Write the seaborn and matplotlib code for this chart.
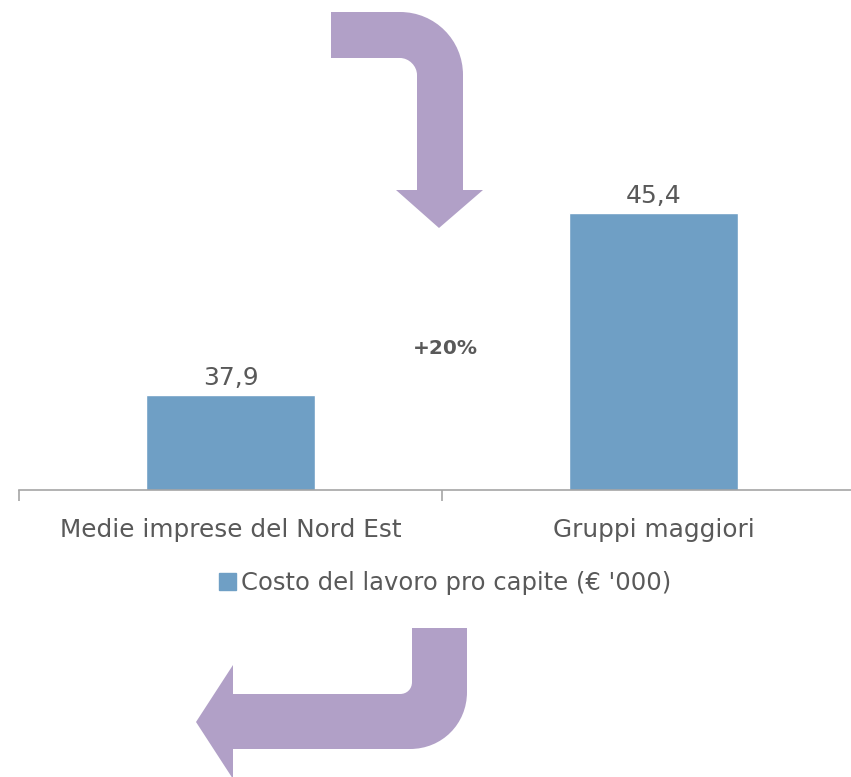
import pandas as pd
import seaborn as sns
import matplotlib.pyplot as plt
from matplotlib.path import Path
from matplotlib.patches import PathPatch, Patch
from matplotlib.transforms import Affine2D

# data
categories = ['Medie imprese del Nord Est', 'Gruppi maggiori']
values = [37.9, 45.4]
value_labels = ['37,9', '45,4']
series_name = "Costo del lavoro pro capite (€ '000)"
delta_label = '+20%'

BAR_COLOR = '#6F9FC5'
ARROW_COLOR = '#B1A0C7'
TEXT_COLOR = '#595959'
AXIS_COLOR = '#A6A6A6'

W, H = 851, 777

sns.set_style('white')
plt.rcParams['font.family'] = ['DejaVu Sans']

df = pd.DataFrame({'categoria': categories, 'valore': values})

fig = plt.figure(figsize=(W / 100, H / 100), dpi=100)
ax = fig.add_axes([19 / W, (H - 490) / H, 846 / W, 490 / H])
sns.barplot(data=df, x='categoria', y='valore', color=BAR_COLOR, width=0.4,
            saturation=1, ax=ax)
ax.set_xlim(-0.5, 1.5)
ax.set_ylim(34, 34 + 490 / 24.27)

for i, lab in enumerate(value_labels):
    ax.annotate(lab, (i, values[i]), xytext=(0, 4), textcoords='offset points',
                ha='center', va='bottom', fontsize=18, color=TEXT_COLOR)

ax.set_xlabel('')
ax.set_ylabel('')
ax.set_yticks([])
for side in ['top', 'right', 'left']:
    ax.spines[side].set_visible(False)
ax.spines['bottom'].set_color(AXIS_COLOR)
ax.spines['bottom'].set_linewidth(1.2)
ax.set_xticks([-0.5, 0.5, 1.5], minor=True)
ax.tick_params(axis='x', which='minor', length=8, width=1.2, color=AXIS_COLOR,
               direction='out', bottom=True)
ax.tick_params(axis='x', which='major', length=0, pad=20, labelsize=17.8,
               labelcolor=TEXT_COLOR)

# legend
ax.legend(handles=[Patch(color=BAR_COLOR, label=series_name)],
          loc='center', bbox_to_anchor=(445 / W, 1 - 583 / H),
          bbox_transform=fig.transFigure, frameon=False, fontsize=17.5,
          labelcolor=TEXT_COLOR, handlelength=0.7, handleheight=0.7,
          handletextpad=0.2)

fig.text(445 / W, 1 - 349 / H, delta_label, ha='center', va='center',
         fontsize=14.5, fontweight='bold', color=TEXT_COLOR)

# bent arrows, in pixel coordinates from top-left
px = Affine2D().scale(1 / W, -1 / H).translate(0, 1) + fig.transFigure
M, L, C, Z = Path.MOVETO, Path.LINETO, Path.CURVE4, Path.CLOSEPOLY

top_arrow = [
    (M, (331, 12)), (L, (400, 12)),
    (C, (435, 12)), (C, (463, 40)), (C, (463, 75)),
    (L, (463, 190)), (L, (483, 190)), (L, (439, 228)), (L, (396, 190)),
    (L, (417, 190)), (L, (417, 75)),
    (C, (417, 66)), (C, (409, 58)), (C, (400, 58)),
    (L, (331, 58)), (Z, (331, 12)),
]
bottom_arrow = [
    (M, (412, 628)), (L, (467, 628)), (L, (467, 692)),
    (C, (467, 724)), (C, (442, 749)), (C, (410, 749)),
    (L, (233, 749)), (L, (233, 779)), (L, (196, 722)), (L, (233, 665)),
    (L, (233, 694)), (L, (400, 694)),
    (C, (407, 694)), (C, (412, 689)), (C, (412, 682)),
    (Z, (412, 628)),
]
for shape in [top_arrow, bottom_arrow]:
    codes = [c for c, _ in shape]
    verts = [v for _, v in shape]
    fig.patches.append(PathPatch(Path(verts, codes), facecolor=ARROW_COLOR,
                                 edgecolor='none', transform=px))

fig.savefig('out.png', dpi=100)
